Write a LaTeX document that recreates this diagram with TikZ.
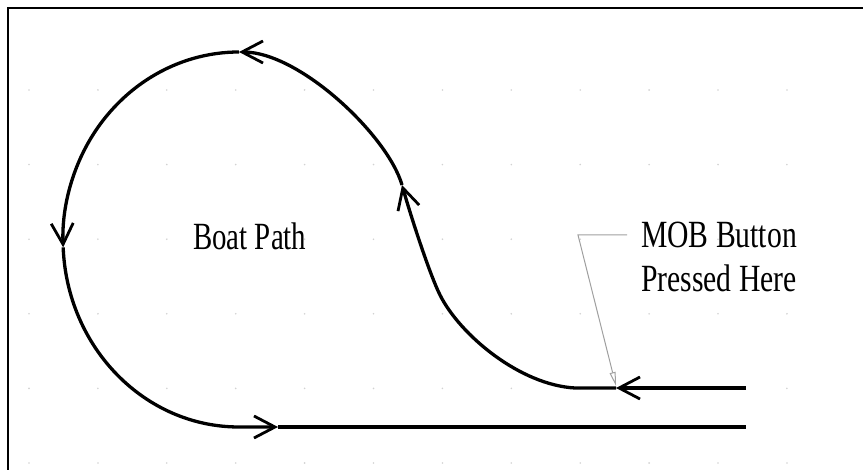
\documentclass[tikz,border=0pt]{standalone}
\usepackage{fontspec}
\setmainfont{Liberation Serif}
\usetikzlibrary{arrows.meta}
\begin{document}
\begin{tikzpicture}[x=1pt,y=-1pt,
  pathline/.style={line width=3.3pt, black},
  barb/.style={-{Straight Barb[length=21pt,width=22pt,line width=2.8pt]}},
  lbl/.style={inner sep=0pt, anchor=base west, font=\fontsize{38.5}{44}\selectfont},
  leader/.style={draw=gray!75, line width=1pt},
  griddot/.style={fill=gray!35}]
\useasboundingbox (0,0) rectangle (863,470);
\clip (0,0) rectangle (863,470);
% faint grid dots
\foreach \i in {0,...,11} \foreach \j in {0,...,5}
  \fill[griddot] (29+68.9*\i, 90+74.6*\j) circle (0.9);
% frame
\draw[line width=2pt] (8,490) -- (8,8) -- (880,8);
% key points of the path
\coordinate (start)   at (746,388);
\coordinate (tipA)    at (616,388);
\coordinate (bend)    at (575,388);
\coordinate (mid)     at (440,295);
\coordinate (tipB)    at (402,185);
\coordinate (top)     at (239,52);
\coordinate (tipD)    at (278,427);
\coordinate (finish)  at (746,427);
% boat path
\draw[pathline, barb] (start) -- (tipA);
\draw[pathline, barb] (tipA) -- (bend)
   .. controls (520,385) and (460,335) .. (mid)
   .. controls (430,275) and (412,220) .. (tipB);
\draw[pathline, barb] (tipB) .. controls (388,136) and (300,52) .. (top);
\path (top) arc[start angle=-90, end angle=-182.4, x radius=176, y radius=187.5] coordinate (tipC);
\draw[pathline, barb] (top) arc[start angle=-90, end angle=-182.4, x radius=176, y radius=187.5];
\draw[pathline, barb] (tipC) arc[start angle=-182.4, end angle=-270, x radius=176, y radius=187.5] -- (tipD);
\draw[pathline] (tipD) -- (finish);
% labels
\node[lbl] (boat) at (193,250) {\scalebox{0.75}[1]{Boat Path}};
\node[lbl] (mob1) at (641,248) {\scalebox{0.77}[1]{MOB Button}};
\node[lbl] (mob2) at (641,292) {\scalebox{0.77}[1]{Pressed Here}};
% leader
\coordinate (ld0) at (627,235);
\coordinate (ld1) at (578,235);
\coordinate (press) at (616,386);
\draw[leader, -{Triangle[open,length=14pt,width=6pt]}] (ld0) -- (ld1) -- (press);
\end{tikzpicture}
\end{document}
